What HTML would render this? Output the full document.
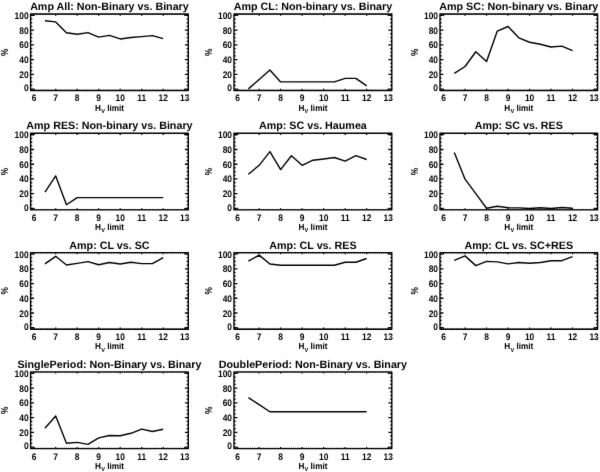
<!DOCTYPE html>
<html><head><meta charset="utf-8"><title>IDL plots</title><style>
html,body{margin:0;padding:0;background:#fff;}
body{width:600px;height:472px;overflow:hidden;}
svg{display:block;}
text{font-family:"Liberation Sans",Arial,sans-serif;font-weight:bold;fill:#000;text-rendering:geometricPrecision;}
.t{font-size:10.72px;}
.l{font-size:9.5px;}
.p{font-size:9.2px;}
.h{font-size:8.8px;}
.s{font-size:6.0px;}
</style></head>
<body><svg width="600" height="472" viewBox="0 0 600 472"><filter id="bl" filterUnits="userSpaceOnUse" x="0" y="0" width="600" height="472" color-interpolation-filters="sRGB"><feConvolveMatrix order="3" kernelMatrix="0.0052 0.0619 0.0052 0.0619 0.7314 0.0619 0.0052 0.0619 0.0052" edgeMode="duplicate"/></filter><g filter="url(#bl)"><rect width="600" height="472" fill="#fff"/><g><path d="M34.2 90.5v-1.64M34.2 14v1.64M55.7 90.5v-1.64M55.7 14v1.64M77.2 90.5v-1.64M77.2 14v1.64M98.7 90.5v-1.64M98.7 14v1.64M120.2 90.5v-1.64M120.2 14v1.64M141.7 90.5v-1.64M141.7 14v1.64M163.2 90.5v-1.64M163.2 14v1.64M184.7 90.5v-1.64M184.7 14v1.64M30.6 89.03h3.39M188.3 89.03h-3.39M30.6 74.32h3.39M188.3 74.32h-3.39M30.6 59.61h3.39M188.3 59.61h-3.39M30.6 44.89h3.39M188.3 44.89h-3.39M30.6 30.18h3.39M188.3 30.18h-3.39M30.6 15.47h3.39M188.3 15.47h-3.39" stroke="#000" stroke-width="1.3" fill="none"/><path d="M32.05 90.5v-0.82M32.05 14v0.82M36.35 90.5v-0.82M36.35 14v0.82M38.5 90.5v-0.82M38.5 14v0.82M40.65 90.5v-0.82M40.65 14v0.82M42.8 90.5v-0.82M42.8 14v0.82M44.95 90.5v-0.82M44.95 14v0.82M47.1 90.5v-0.82M47.1 14v0.82M49.25 90.5v-0.82M49.25 14v0.82M51.4 90.5v-0.82M51.4 14v0.82M53.55 90.5v-0.82M53.55 14v0.82M57.85 90.5v-0.82M57.85 14v0.82M60 90.5v-0.82M60 14v0.82M62.15 90.5v-0.82M62.15 14v0.82M64.3 90.5v-0.82M64.3 14v0.82M66.45 90.5v-0.82M66.45 14v0.82M68.6 90.5v-0.82M68.6 14v0.82M70.75 90.5v-0.82M70.75 14v0.82M72.9 90.5v-0.82M72.9 14v0.82M75.05 90.5v-0.82M75.05 14v0.82M79.35 90.5v-0.82M79.35 14v0.82M81.5 90.5v-0.82M81.5 14v0.82M83.65 90.5v-0.82M83.65 14v0.82M85.8 90.5v-0.82M85.8 14v0.82M87.95 90.5v-0.82M87.95 14v0.82M90.1 90.5v-0.82M90.1 14v0.82M92.25 90.5v-0.82M92.25 14v0.82M94.4 90.5v-0.82M94.4 14v0.82M96.55 90.5v-0.82M96.55 14v0.82M100.85 90.5v-0.82M100.85 14v0.82M103 90.5v-0.82M103 14v0.82M105.15 90.5v-0.82M105.15 14v0.82M107.3 90.5v-0.82M107.3 14v0.82M109.45 90.5v-0.82M109.45 14v0.82M111.6 90.5v-0.82M111.6 14v0.82M113.75 90.5v-0.82M113.75 14v0.82M115.9 90.5v-0.82M115.9 14v0.82M118.05 90.5v-0.82M118.05 14v0.82M122.35 90.5v-0.82M122.35 14v0.82M124.5 90.5v-0.82M124.5 14v0.82M126.65 90.5v-0.82M126.65 14v0.82M128.8 90.5v-0.82M128.8 14v0.82M130.95 90.5v-0.82M130.95 14v0.82M133.1 90.5v-0.82M133.1 14v0.82M135.25 90.5v-0.82M135.25 14v0.82M137.4 90.5v-0.82M137.4 14v0.82M139.55 90.5v-0.82M139.55 14v0.82M143.85 90.5v-0.82M143.85 14v0.82M146 90.5v-0.82M146 14v0.82M148.15 90.5v-0.82M148.15 14v0.82M150.3 90.5v-0.82M150.3 14v0.82M152.45 90.5v-0.82M152.45 14v0.82M154.6 90.5v-0.82M154.6 14v0.82M156.75 90.5v-0.82M156.75 14v0.82M158.9 90.5v-0.82M158.9 14v0.82M161.05 90.5v-0.82M161.05 14v0.82M165.35 90.5v-0.82M165.35 14v0.82M167.5 90.5v-0.82M167.5 14v0.82M169.65 90.5v-0.82M169.65 14v0.82M171.8 90.5v-0.82M171.8 14v0.82M173.95 90.5v-0.82M173.95 14v0.82M176.1 90.5v-0.82M176.1 14v0.82M178.25 90.5v-0.82M178.25 14v0.82M180.4 90.5v-0.82M180.4 14v0.82M182.55 90.5v-0.82M182.55 14v0.82M186.85 90.5v-0.82M186.85 14v0.82M30.6 85.35h1.7M188.3 85.35h-1.7M30.6 81.67h1.7M188.3 81.67h-1.7M30.6 78h1.7M188.3 78h-1.7M30.6 70.64h1.7M188.3 70.64h-1.7M30.6 66.96h1.7M188.3 66.96h-1.7M30.6 63.28h1.7M188.3 63.28h-1.7M30.6 55.93h1.7M188.3 55.93h-1.7M30.6 52.25h1.7M188.3 52.25h-1.7M30.6 48.57h1.7M188.3 48.57h-1.7M30.6 41.22h1.7M188.3 41.22h-1.7M30.6 37.54h1.7M188.3 37.54h-1.7M30.6 33.86h1.7M188.3 33.86h-1.7M30.6 26.5h1.7M188.3 26.5h-1.7M30.6 22.83h1.7M188.3 22.83h-1.7M30.6 19.15h1.7M188.3 19.15h-1.7" stroke="#000" stroke-width="1.15" fill="none"/><rect x="30.6" y="14" width="157.7" height="76.5" stroke="#000" stroke-width="1.4" stroke-linejoin="round" fill="none"/><polyline points="44.95,20.68 55.7,21.9 66.45,32.73 77.2,34.3 87.95,32.58 98.7,37.17 109.45,35.38 120.2,38.96 130.95,37.53 141.7,36.67 152.45,35.59 163.2,38.68" stroke="#000" stroke-width="1.4" fill="none" stroke-linejoin="round"/><text class="t" text-anchor="middle" x="109.45" y="10.1">Amp All: Non-Binary vs. Binary</text><text class="l" text-anchor="middle" transform="translate(34.2 101.4) scale(0.885 1)">6</text><text class="l" text-anchor="middle" transform="translate(55.7 101.4) scale(0.885 1)">7</text><text class="l" text-anchor="middle" transform="translate(77.2 101.4) scale(0.885 1)">8</text><text class="l" text-anchor="middle" transform="translate(98.7 101.4) scale(0.885 1)">9</text><text class="l" text-anchor="middle" transform="translate(120.2 101.4) scale(0.885 1)">10</text><text class="l" text-anchor="middle" transform="translate(141.7 101.4) scale(0.885 1)">11</text><text class="l" text-anchor="middle" transform="translate(163.2 101.4) scale(0.885 1)">12</text><text class="l" text-anchor="middle" transform="translate(184.7 101.4) scale(0.885 1)">13</text><text class="l" text-anchor="end" transform="translate(28.6 91.13) scale(0.885 1)">0</text><text class="l" text-anchor="end" transform="translate(28.6 77.82) scale(0.885 1)">20</text><text class="l" text-anchor="end" transform="translate(28.6 63.11) scale(0.885 1)">40</text><text class="l" text-anchor="end" transform="translate(28.6 48.39) scale(0.885 1)">60</text><text class="l" text-anchor="end" transform="translate(28.6 33.68) scale(0.885 1)">80</text><text class="l" text-anchor="end" transform="translate(28.6 18.97) scale(0.885 1)">100</text><text class="p" text-anchor="middle" transform="translate(8.2 52.25) rotate(-90) scale(0.9 1.1)">%</text><text class="h" text-anchor="middle" transform="translate(109.45 110.7) scale(0.93 1)">H<tspan class="s" dx="0.3" dy="2.1">V</tspan><tspan dy="-2.1"> limit</tspan></text></g><g><path d="M237.65 90.5v-1.64M237.65 14v1.64M259.15 90.5v-1.64M259.15 14v1.64M280.65 90.5v-1.64M280.65 14v1.64M302.15 90.5v-1.64M302.15 14v1.64M323.65 90.5v-1.64M323.65 14v1.64M345.15 90.5v-1.64M345.15 14v1.64M366.65 90.5v-1.64M366.65 14v1.64M388.15 90.5v-1.64M388.15 14v1.64M234 89.03h3.39M391.8 89.03h-3.39M234 74.32h3.39M391.8 74.32h-3.39M234 59.61h3.39M391.8 59.61h-3.39M234 44.89h3.39M391.8 44.89h-3.39M234 30.18h3.39M391.8 30.18h-3.39M234 15.47h3.39M391.8 15.47h-3.39" stroke="#000" stroke-width="1.3" fill="none"/><path d="M235.5 90.5v-0.82M235.5 14v0.82M239.8 90.5v-0.82M239.8 14v0.82M241.95 90.5v-0.82M241.95 14v0.82M244.1 90.5v-0.82M244.1 14v0.82M246.25 90.5v-0.82M246.25 14v0.82M248.4 90.5v-0.82M248.4 14v0.82M250.55 90.5v-0.82M250.55 14v0.82M252.7 90.5v-0.82M252.7 14v0.82M254.85 90.5v-0.82M254.85 14v0.82M257 90.5v-0.82M257 14v0.82M261.3 90.5v-0.82M261.3 14v0.82M263.45 90.5v-0.82M263.45 14v0.82M265.6 90.5v-0.82M265.6 14v0.82M267.75 90.5v-0.82M267.75 14v0.82M269.9 90.5v-0.82M269.9 14v0.82M272.05 90.5v-0.82M272.05 14v0.82M274.2 90.5v-0.82M274.2 14v0.82M276.35 90.5v-0.82M276.35 14v0.82M278.5 90.5v-0.82M278.5 14v0.82M282.8 90.5v-0.82M282.8 14v0.82M284.95 90.5v-0.82M284.95 14v0.82M287.1 90.5v-0.82M287.1 14v0.82M289.25 90.5v-0.82M289.25 14v0.82M291.4 90.5v-0.82M291.4 14v0.82M293.55 90.5v-0.82M293.55 14v0.82M295.7 90.5v-0.82M295.7 14v0.82M297.85 90.5v-0.82M297.85 14v0.82M300 90.5v-0.82M300 14v0.82M304.3 90.5v-0.82M304.3 14v0.82M306.45 90.5v-0.82M306.45 14v0.82M308.6 90.5v-0.82M308.6 14v0.82M310.75 90.5v-0.82M310.75 14v0.82M312.9 90.5v-0.82M312.9 14v0.82M315.05 90.5v-0.82M315.05 14v0.82M317.2 90.5v-0.82M317.2 14v0.82M319.35 90.5v-0.82M319.35 14v0.82M321.5 90.5v-0.82M321.5 14v0.82M325.8 90.5v-0.82M325.8 14v0.82M327.95 90.5v-0.82M327.95 14v0.82M330.1 90.5v-0.82M330.1 14v0.82M332.25 90.5v-0.82M332.25 14v0.82M334.4 90.5v-0.82M334.4 14v0.82M336.55 90.5v-0.82M336.55 14v0.82M338.7 90.5v-0.82M338.7 14v0.82M340.85 90.5v-0.82M340.85 14v0.82M343 90.5v-0.82M343 14v0.82M347.3 90.5v-0.82M347.3 14v0.82M349.45 90.5v-0.82M349.45 14v0.82M351.6 90.5v-0.82M351.6 14v0.82M353.75 90.5v-0.82M353.75 14v0.82M355.9 90.5v-0.82M355.9 14v0.82M358.05 90.5v-0.82M358.05 14v0.82M360.2 90.5v-0.82M360.2 14v0.82M362.35 90.5v-0.82M362.35 14v0.82M364.5 90.5v-0.82M364.5 14v0.82M368.8 90.5v-0.82M368.8 14v0.82M370.95 90.5v-0.82M370.95 14v0.82M373.1 90.5v-0.82M373.1 14v0.82M375.25 90.5v-0.82M375.25 14v0.82M377.4 90.5v-0.82M377.4 14v0.82M379.55 90.5v-0.82M379.55 14v0.82M381.7 90.5v-0.82M381.7 14v0.82M383.85 90.5v-0.82M383.85 14v0.82M386 90.5v-0.82M386 14v0.82M390.3 90.5v-0.82M390.3 14v0.82M234 85.35h1.7M391.8 85.35h-1.7M234 81.67h1.7M391.8 81.67h-1.7M234 78h1.7M391.8 78h-1.7M234 70.64h1.7M391.8 70.64h-1.7M234 66.96h1.7M391.8 66.96h-1.7M234 63.28h1.7M391.8 63.28h-1.7M234 55.93h1.7M391.8 55.93h-1.7M234 52.25h1.7M391.8 52.25h-1.7M234 48.57h1.7M391.8 48.57h-1.7M234 41.22h1.7M391.8 41.22h-1.7M234 37.54h1.7M391.8 37.54h-1.7M234 33.86h1.7M391.8 33.86h-1.7M234 26.5h1.7M391.8 26.5h-1.7M234 22.83h1.7M391.8 22.83h-1.7M234 19.15h1.7M391.8 19.15h-1.7" stroke="#000" stroke-width="1.15" fill="none"/><rect x="234" y="14" width="157.8" height="76.5" stroke="#000" stroke-width="1.4" stroke-linejoin="round" fill="none"/><polyline points="248.4,88.87 259.15,79.55 269.9,70.01 280.65,81.91 291.4,81.91 302.15,81.91 312.9,81.91 323.65,81.91 334.4,81.91 345.15,78.33 355.9,78.33 366.65,85.93" stroke="#000" stroke-width="1.4" fill="none" stroke-linejoin="round"/><text class="t" text-anchor="middle" x="312.9" y="10.1">Amp CL: Non-binary vs. Binary</text><text class="l" text-anchor="middle" transform="translate(237.65 101.4) scale(0.885 1)">6</text><text class="l" text-anchor="middle" transform="translate(259.15 101.4) scale(0.885 1)">7</text><text class="l" text-anchor="middle" transform="translate(280.65 101.4) scale(0.885 1)">8</text><text class="l" text-anchor="middle" transform="translate(302.15 101.4) scale(0.885 1)">9</text><text class="l" text-anchor="middle" transform="translate(323.65 101.4) scale(0.885 1)">10</text><text class="l" text-anchor="middle" transform="translate(345.15 101.4) scale(0.885 1)">11</text><text class="l" text-anchor="middle" transform="translate(366.65 101.4) scale(0.885 1)">12</text><text class="l" text-anchor="middle" transform="translate(388.15 101.4) scale(0.885 1)">13</text><text class="l" text-anchor="end" transform="translate(232 91.13) scale(0.885 1)">0</text><text class="l" text-anchor="end" transform="translate(232 77.82) scale(0.885 1)">20</text><text class="l" text-anchor="end" transform="translate(232 63.11) scale(0.885 1)">40</text><text class="l" text-anchor="end" transform="translate(232 48.39) scale(0.885 1)">60</text><text class="l" text-anchor="end" transform="translate(232 33.68) scale(0.885 1)">80</text><text class="l" text-anchor="end" transform="translate(232 18.97) scale(0.885 1)">100</text><text class="p" text-anchor="middle" transform="translate(211.6 52.25) rotate(-90) scale(0.9 1.1)">%</text><text class="h" text-anchor="middle" transform="translate(312.9 110.7) scale(0.93 1)">H<tspan class="s" dx="0.3" dy="2.1">V</tspan><tspan dy="-2.1"> limit</tspan></text></g><g><path d="M443.55 90.5v-1.64M443.55 14v1.64M465.05 90.5v-1.64M465.05 14v1.64M486.55 90.5v-1.64M486.55 14v1.64M508.05 90.5v-1.64M508.05 14v1.64M529.55 90.5v-1.64M529.55 14v1.64M551.05 90.5v-1.64M551.05 14v1.64M572.55 90.5v-1.64M572.55 14v1.64M594.05 90.5v-1.64M594.05 14v1.64M440 89.03h3.39M597.6 89.03h-3.39M440 74.32h3.39M597.6 74.32h-3.39M440 59.61h3.39M597.6 59.61h-3.39M440 44.89h3.39M597.6 44.89h-3.39M440 30.18h3.39M597.6 30.18h-3.39M440 15.47h3.39M597.6 15.47h-3.39" stroke="#000" stroke-width="1.3" fill="none"/><path d="M441.4 90.5v-0.82M441.4 14v0.82M445.7 90.5v-0.82M445.7 14v0.82M447.85 90.5v-0.82M447.85 14v0.82M450 90.5v-0.82M450 14v0.82M452.15 90.5v-0.82M452.15 14v0.82M454.3 90.5v-0.82M454.3 14v0.82M456.45 90.5v-0.82M456.45 14v0.82M458.6 90.5v-0.82M458.6 14v0.82M460.75 90.5v-0.82M460.75 14v0.82M462.9 90.5v-0.82M462.9 14v0.82M467.2 90.5v-0.82M467.2 14v0.82M469.35 90.5v-0.82M469.35 14v0.82M471.5 90.5v-0.82M471.5 14v0.82M473.65 90.5v-0.82M473.65 14v0.82M475.8 90.5v-0.82M475.8 14v0.82M477.95 90.5v-0.82M477.95 14v0.82M480.1 90.5v-0.82M480.1 14v0.82M482.25 90.5v-0.82M482.25 14v0.82M484.4 90.5v-0.82M484.4 14v0.82M488.7 90.5v-0.82M488.7 14v0.82M490.85 90.5v-0.82M490.85 14v0.82M493 90.5v-0.82M493 14v0.82M495.15 90.5v-0.82M495.15 14v0.82M497.3 90.5v-0.82M497.3 14v0.82M499.45 90.5v-0.82M499.45 14v0.82M501.6 90.5v-0.82M501.6 14v0.82M503.75 90.5v-0.82M503.75 14v0.82M505.9 90.5v-0.82M505.9 14v0.82M510.2 90.5v-0.82M510.2 14v0.82M512.35 90.5v-0.82M512.35 14v0.82M514.5 90.5v-0.82M514.5 14v0.82M516.65 90.5v-0.82M516.65 14v0.82M518.8 90.5v-0.82M518.8 14v0.82M520.95 90.5v-0.82M520.95 14v0.82M523.1 90.5v-0.82M523.1 14v0.82M525.25 90.5v-0.82M525.25 14v0.82M527.4 90.5v-0.82M527.4 14v0.82M531.7 90.5v-0.82M531.7 14v0.82M533.85 90.5v-0.82M533.85 14v0.82M536 90.5v-0.82M536 14v0.82M538.15 90.5v-0.82M538.15 14v0.82M540.3 90.5v-0.82M540.3 14v0.82M542.45 90.5v-0.82M542.45 14v0.82M544.6 90.5v-0.82M544.6 14v0.82M546.75 90.5v-0.82M546.75 14v0.82M548.9 90.5v-0.82M548.9 14v0.82M553.2 90.5v-0.82M553.2 14v0.82M555.35 90.5v-0.82M555.35 14v0.82M557.5 90.5v-0.82M557.5 14v0.82M559.65 90.5v-0.82M559.65 14v0.82M561.8 90.5v-0.82M561.8 14v0.82M563.95 90.5v-0.82M563.95 14v0.82M566.1 90.5v-0.82M566.1 14v0.82M568.25 90.5v-0.82M568.25 14v0.82M570.4 90.5v-0.82M570.4 14v0.82M574.7 90.5v-0.82M574.7 14v0.82M576.85 90.5v-0.82M576.85 14v0.82M579 90.5v-0.82M579 14v0.82M581.15 90.5v-0.82M581.15 14v0.82M583.3 90.5v-0.82M583.3 14v0.82M585.45 90.5v-0.82M585.45 14v0.82M587.6 90.5v-0.82M587.6 14v0.82M589.75 90.5v-0.82M589.75 14v0.82M591.9 90.5v-0.82M591.9 14v0.82M596.2 90.5v-0.82M596.2 14v0.82M440 85.35h1.69M597.6 85.35h-1.69M440 81.67h1.69M597.6 81.67h-1.69M440 78h1.69M597.6 78h-1.69M440 70.64h1.69M597.6 70.64h-1.69M440 66.96h1.69M597.6 66.96h-1.69M440 63.28h1.69M597.6 63.28h-1.69M440 55.93h1.69M597.6 55.93h-1.69M440 52.25h1.69M597.6 52.25h-1.69M440 48.57h1.69M597.6 48.57h-1.69M440 41.22h1.69M597.6 41.22h-1.69M440 37.54h1.69M597.6 37.54h-1.69M440 33.86h1.69M597.6 33.86h-1.69M440 26.5h1.69M597.6 26.5h-1.69M440 22.83h1.69M597.6 22.83h-1.69M440 19.15h1.69M597.6 19.15h-1.69" stroke="#000" stroke-width="1.15" fill="none"/><rect x="440" y="14" width="157.6" height="76.5" stroke="#000" stroke-width="1.4" stroke-linejoin="round" fill="none"/><polyline points="454.3,73.38 465.05,66.5 475.8,51.73 486.55,61.48 497.3,31.08 508.05,26.49 518.8,37.82 529.55,42.26 540.3,44.27 551.05,46.99 561.8,46.13 572.55,50.72" stroke="#000" stroke-width="1.4" fill="none" stroke-linejoin="round"/><text class="t" text-anchor="middle" x="518.8" y="10.1">Amp SC: Non-binary vs. Binary</text><text class="l" text-anchor="middle" transform="translate(443.55 101.4) scale(0.885 1)">6</text><text class="l" text-anchor="middle" transform="translate(465.05 101.4) scale(0.885 1)">7</text><text class="l" text-anchor="middle" transform="translate(486.55 101.4) scale(0.885 1)">8</text><text class="l" text-anchor="middle" transform="translate(508.05 101.4) scale(0.885 1)">9</text><text class="l" text-anchor="middle" transform="translate(529.55 101.4) scale(0.885 1)">10</text><text class="l" text-anchor="middle" transform="translate(551.05 101.4) scale(0.885 1)">11</text><text class="l" text-anchor="middle" transform="translate(572.55 101.4) scale(0.885 1)">12</text><text class="l" text-anchor="middle" transform="translate(594.05 101.4) scale(0.885 1)">13</text><text class="l" text-anchor="end" transform="translate(438 91.13) scale(0.885 1)">0</text><text class="l" text-anchor="end" transform="translate(438 77.82) scale(0.885 1)">20</text><text class="l" text-anchor="end" transform="translate(438 63.11) scale(0.885 1)">40</text><text class="l" text-anchor="end" transform="translate(438 48.39) scale(0.885 1)">60</text><text class="l" text-anchor="end" transform="translate(438 33.68) scale(0.885 1)">80</text><text class="l" text-anchor="end" transform="translate(438 18.97) scale(0.885 1)">100</text><text class="p" text-anchor="middle" transform="translate(417.6 52.25) rotate(-90) scale(0.9 1.1)">%</text><text class="h" text-anchor="middle" transform="translate(518.8 110.7) scale(0.93 1)">H<tspan class="s" dx="0.3" dy="2.1">V</tspan><tspan dy="-2.1"> limit</tspan></text></g><g><path d="M34.2 209.9v-1.65M34.2 133.3v1.65M55.7 209.9v-1.65M55.7 133.3v1.65M77.2 209.9v-1.65M77.2 133.3v1.65M98.7 209.9v-1.65M98.7 133.3v1.65M120.2 209.9v-1.65M120.2 133.3v1.65M141.7 209.9v-1.65M141.7 133.3v1.65M163.2 209.9v-1.65M163.2 133.3v1.65M184.7 209.9v-1.65M184.7 133.3v1.65M30.6 208.43h3.39M188.3 208.43h-3.39M30.6 193.7h3.39M188.3 193.7h-3.39M30.6 178.97h3.39M188.3 178.97h-3.39M30.6 164.23h3.39M188.3 164.23h-3.39M30.6 149.5h3.39M188.3 149.5h-3.39M30.6 134.77h3.39M188.3 134.77h-3.39" stroke="#000" stroke-width="1.3" fill="none"/><path d="M32.05 209.9v-0.82M32.05 133.3v0.82M36.35 209.9v-0.82M36.35 133.3v0.82M38.5 209.9v-0.82M38.5 133.3v0.82M40.65 209.9v-0.82M40.65 133.3v0.82M42.8 209.9v-0.82M42.8 133.3v0.82M44.95 209.9v-0.82M44.95 133.3v0.82M47.1 209.9v-0.82M47.1 133.3v0.82M49.25 209.9v-0.82M49.25 133.3v0.82M51.4 209.9v-0.82M51.4 133.3v0.82M53.55 209.9v-0.82M53.55 133.3v0.82M57.85 209.9v-0.82M57.85 133.3v0.82M60 209.9v-0.82M60 133.3v0.82M62.15 209.9v-0.82M62.15 133.3v0.82M64.3 209.9v-0.82M64.3 133.3v0.82M66.45 209.9v-0.82M66.45 133.3v0.82M68.6 209.9v-0.82M68.6 133.3v0.82M70.75 209.9v-0.82M70.75 133.3v0.82M72.9 209.9v-0.82M72.9 133.3v0.82M75.05 209.9v-0.82M75.05 133.3v0.82M79.35 209.9v-0.82M79.35 133.3v0.82M81.5 209.9v-0.82M81.5 133.3v0.82M83.65 209.9v-0.82M83.65 133.3v0.82M85.8 209.9v-0.82M85.8 133.3v0.82M87.95 209.9v-0.82M87.95 133.3v0.82M90.1 209.9v-0.82M90.1 133.3v0.82M92.25 209.9v-0.82M92.25 133.3v0.82M94.4 209.9v-0.82M94.4 133.3v0.82M96.55 209.9v-0.82M96.55 133.3v0.82M100.85 209.9v-0.82M100.85 133.3v0.82M103 209.9v-0.82M103 133.3v0.82M105.15 209.9v-0.82M105.15 133.3v0.82M107.3 209.9v-0.82M107.3 133.3v0.82M109.45 209.9v-0.82M109.45 133.3v0.82M111.6 209.9v-0.82M111.6 133.3v0.82M113.75 209.9v-0.82M113.75 133.3v0.82M115.9 209.9v-0.82M115.9 133.3v0.82M118.05 209.9v-0.82M118.05 133.3v0.82M122.35 209.9v-0.82M122.35 133.3v0.82M124.5 209.9v-0.82M124.5 133.3v0.82M126.65 209.9v-0.82M126.65 133.3v0.82M128.8 209.9v-0.82M128.8 133.3v0.82M130.95 209.9v-0.82M130.95 133.3v0.82M133.1 209.9v-0.82M133.1 133.3v0.82M135.25 209.9v-0.82M135.25 133.3v0.82M137.4 209.9v-0.82M137.4 133.3v0.82M139.55 209.9v-0.82M139.55 133.3v0.82M143.85 209.9v-0.82M143.85 133.3v0.82M146 209.9v-0.82M146 133.3v0.82M148.15 209.9v-0.82M148.15 133.3v0.82M150.3 209.9v-0.82M150.3 133.3v0.82M152.45 209.9v-0.82M152.45 133.3v0.82M154.6 209.9v-0.82M154.6 133.3v0.82M156.75 209.9v-0.82M156.75 133.3v0.82M158.9 209.9v-0.82M158.9 133.3v0.82M161.05 209.9v-0.82M161.05 133.3v0.82M165.35 209.9v-0.82M165.35 133.3v0.82M167.5 209.9v-0.82M167.5 133.3v0.82M169.65 209.9v-0.82M169.65 133.3v0.82M171.8 209.9v-0.82M171.8 133.3v0.82M173.95 209.9v-0.82M173.95 133.3v0.82M176.1 209.9v-0.82M176.1 133.3v0.82M178.25 209.9v-0.82M178.25 133.3v0.82M180.4 209.9v-0.82M180.4 133.3v0.82M182.55 209.9v-0.82M182.55 133.3v0.82M186.85 209.9v-0.82M186.85 133.3v0.82M30.6 204.74h1.7M188.3 204.74h-1.7M30.6 201.06h1.7M188.3 201.06h-1.7M30.6 197.38h1.7M188.3 197.38h-1.7M30.6 190.01h1.7M188.3 190.01h-1.7M30.6 186.33h1.7M188.3 186.33h-1.7M30.6 182.65h1.7M188.3 182.65h-1.7M30.6 175.28h1.7M188.3 175.28h-1.7M30.6 171.6h1.7M188.3 171.6h-1.7M30.6 167.92h1.7M188.3 167.92h-1.7M30.6 160.55h1.7M188.3 160.55h-1.7M30.6 156.87h1.7M188.3 156.87h-1.7M30.6 153.19h1.7M188.3 153.19h-1.7M30.6 145.82h1.7M188.3 145.82h-1.7M30.6 142.14h1.7M188.3 142.14h-1.7M30.6 138.46h1.7M188.3 138.46h-1.7" stroke="#000" stroke-width="1.15" fill="none"/><rect x="30.6" y="133.3" width="157.7" height="76.6" stroke="#000" stroke-width="1.4" stroke-linejoin="round" fill="none"/><polyline points="44.95,192.03 55.7,175.89 66.45,204.72 77.2,197.62 87.95,197.62 98.7,197.62 109.45,197.62 120.2,197.62 130.95,197.62 141.7,197.62 152.45,197.62 163.2,197.62" stroke="#000" stroke-width="1.4" fill="none" stroke-linejoin="round"/><text class="t" text-anchor="middle" x="109.45" y="129.4">Amp RES: Non-binary vs. Binary</text><text class="l" text-anchor="middle" transform="translate(34.2 220.8) scale(0.885 1)">6</text><text class="l" text-anchor="middle" transform="translate(55.7 220.8) scale(0.885 1)">7</text><text class="l" text-anchor="middle" transform="translate(77.2 220.8) scale(0.885 1)">8</text><text class="l" text-anchor="middle" transform="translate(98.7 220.8) scale(0.885 1)">9</text><text class="l" text-anchor="middle" transform="translate(120.2 220.8) scale(0.885 1)">10</text><text class="l" text-anchor="middle" transform="translate(141.7 220.8) scale(0.885 1)">11</text><text class="l" text-anchor="middle" transform="translate(163.2 220.8) scale(0.885 1)">12</text><text class="l" text-anchor="middle" transform="translate(184.7 220.8) scale(0.885 1)">13</text><text class="l" text-anchor="end" transform="translate(28.6 210.53) scale(0.885 1)">0</text><text class="l" text-anchor="end" transform="translate(28.6 197.2) scale(0.885 1)">20</text><text class="l" text-anchor="end" transform="translate(28.6 182.47) scale(0.885 1)">40</text><text class="l" text-anchor="end" transform="translate(28.6 167.73) scale(0.885 1)">60</text><text class="l" text-anchor="end" transform="translate(28.6 153) scale(0.885 1)">80</text><text class="l" text-anchor="end" transform="translate(28.6 138.27) scale(0.885 1)">100</text><text class="p" text-anchor="middle" transform="translate(8.2 171.6) rotate(-90) scale(0.9 1.1)">%</text><text class="h" text-anchor="middle" transform="translate(109.45 230.1) scale(0.93 1)">H<tspan class="s" dx="0.3" dy="2.1">V</tspan><tspan dy="-2.1"> limit</tspan></text></g><g><path d="M237.65 209.9v-1.65M237.65 133.3v1.65M259.15 209.9v-1.65M259.15 133.3v1.65M280.65 209.9v-1.65M280.65 133.3v1.65M302.15 209.9v-1.65M302.15 133.3v1.65M323.65 209.9v-1.65M323.65 133.3v1.65M345.15 209.9v-1.65M345.15 133.3v1.65M366.65 209.9v-1.65M366.65 133.3v1.65M388.15 209.9v-1.65M388.15 133.3v1.65M234 208.43h3.39M391.8 208.43h-3.39M234 193.7h3.39M391.8 193.7h-3.39M234 178.97h3.39M391.8 178.97h-3.39M234 164.23h3.39M391.8 164.23h-3.39M234 149.5h3.39M391.8 149.5h-3.39M234 134.77h3.39M391.8 134.77h-3.39" stroke="#000" stroke-width="1.3" fill="none"/><path d="M235.5 209.9v-0.82M235.5 133.3v0.82M239.8 209.9v-0.82M239.8 133.3v0.82M241.95 209.9v-0.82M241.95 133.3v0.82M244.1 209.9v-0.82M244.1 133.3v0.82M246.25 209.9v-0.82M246.25 133.3v0.82M248.4 209.9v-0.82M248.4 133.3v0.82M250.55 209.9v-0.82M250.55 133.3v0.82M252.7 209.9v-0.82M252.7 133.3v0.82M254.85 209.9v-0.82M254.85 133.3v0.82M257 209.9v-0.82M257 133.3v0.82M261.3 209.9v-0.82M261.3 133.3v0.82M263.45 209.9v-0.82M263.45 133.3v0.82M265.6 209.9v-0.82M265.6 133.3v0.82M267.75 209.9v-0.82M267.75 133.3v0.82M269.9 209.9v-0.82M269.9 133.3v0.82M272.05 209.9v-0.82M272.05 133.3v0.82M274.2 209.9v-0.82M274.2 133.3v0.82M276.35 209.9v-0.82M276.35 133.3v0.82M278.5 209.9v-0.82M278.5 133.3v0.82M282.8 209.9v-0.82M282.8 133.3v0.82M284.95 209.9v-0.82M284.95 133.3v0.82M287.1 209.9v-0.82M287.1 133.3v0.82M289.25 209.9v-0.82M289.25 133.3v0.82M291.4 209.9v-0.82M291.4 133.3v0.82M293.55 209.9v-0.82M293.55 133.3v0.82M295.7 209.9v-0.82M295.7 133.3v0.82M297.85 209.9v-0.82M297.85 133.3v0.82M300 209.9v-0.82M300 133.3v0.82M304.3 209.9v-0.82M304.3 133.3v0.82M306.45 209.9v-0.82M306.45 133.3v0.82M308.6 209.9v-0.82M308.6 133.3v0.82M310.75 209.9v-0.82M310.75 133.3v0.82M312.9 209.9v-0.82M312.9 133.3v0.82M315.05 209.9v-0.82M315.05 133.3v0.82M317.2 209.9v-0.82M317.2 133.3v0.82M319.35 209.9v-0.82M319.35 133.3v0.82M321.5 209.9v-0.82M321.5 133.3v0.82M325.8 209.9v-0.82M325.8 133.3v0.82M327.95 209.9v-0.82M327.95 133.3v0.82M330.1 209.9v-0.82M330.1 133.3v0.82M332.25 209.9v-0.82M332.25 133.3v0.82M334.4 209.9v-0.82M334.4 133.3v0.82M336.55 209.9v-0.82M336.55 133.3v0.82M338.7 209.9v-0.82M338.7 133.3v0.82M340.85 209.9v-0.82M340.85 133.3v0.82M343 209.9v-0.82M343 133.3v0.82M347.3 209.9v-0.82M347.3 133.3v0.82M349.45 209.9v-0.82M349.45 133.3v0.82M351.6 209.9v-0.82M351.6 133.3v0.82M353.75 209.9v-0.82M353.75 133.3v0.82M355.9 209.9v-0.82M355.9 133.3v0.82M358.05 209.9v-0.82M358.05 133.3v0.82M360.2 209.9v-0.82M360.2 133.3v0.82M362.35 209.9v-0.82M362.35 133.3v0.82M364.5 209.9v-0.82M364.5 133.3v0.82M368.8 209.9v-0.82M368.8 133.3v0.82M370.95 209.9v-0.82M370.95 133.3v0.82M373.1 209.9v-0.82M373.1 133.3v0.82M375.25 209.9v-0.82M375.25 133.3v0.82M377.4 209.9v-0.82M377.4 133.3v0.82M379.55 209.9v-0.82M379.55 133.3v0.82M381.7 209.9v-0.82M381.7 133.3v0.82M383.85 209.9v-0.82M383.85 133.3v0.82M386 209.9v-0.82M386 133.3v0.82M390.3 209.9v-0.82M390.3 133.3v0.82M234 204.74h1.7M391.8 204.74h-1.7M234 201.06h1.7M391.8 201.06h-1.7M234 197.38h1.7M391.8 197.38h-1.7M234 190.01h1.7M391.8 190.01h-1.7M234 186.33h1.7M391.8 186.33h-1.7M234 182.65h1.7M391.8 182.65h-1.7M234 175.28h1.7M391.8 175.28h-1.7M234 171.6h1.7M391.8 171.6h-1.7M234 167.92h1.7M391.8 167.92h-1.7M234 160.55h1.7M391.8 160.55h-1.7M234 156.87h1.7M391.8 156.87h-1.7M234 153.19h1.7M391.8 153.19h-1.7M234 145.82h1.7M391.8 145.82h-1.7M234 142.14h1.7M391.8 142.14h-1.7M234 138.46h1.7M391.8 138.46h-1.7" stroke="#000" stroke-width="1.15" fill="none"/><rect x="234" y="133.3" width="157.8" height="76.6" stroke="#000" stroke-width="1.4" stroke-linejoin="round" fill="none"/><polyline points="248.4,174.27 259.15,165.31 269.9,151.69 280.65,169.61 291.4,155.7 302.15,165.31 312.9,160.22 323.65,158.93 334.4,157.49 345.15,161.08 355.9,155.7 366.65,159.5" stroke="#000" stroke-width="1.4" fill="none" stroke-linejoin="round"/><text class="t" text-anchor="middle" x="312.9" y="129.4">Amp: SC vs. Haumea</text><text class="l" text-anchor="middle" transform="translate(237.65 220.8) scale(0.885 1)">6</text><text class="l" text-anchor="middle" transform="translate(259.15 220.8) scale(0.885 1)">7</text><text class="l" text-anchor="middle" transform="translate(280.65 220.8) scale(0.885 1)">8</text><text class="l" text-anchor="middle" transform="translate(302.15 220.8) scale(0.885 1)">9</text><text class="l" text-anchor="middle" transform="translate(323.65 220.8) scale(0.885 1)">10</text><text class="l" text-anchor="middle" transform="translate(345.15 220.8) scale(0.885 1)">11</text><text class="l" text-anchor="middle" transform="translate(366.65 220.8) scale(0.885 1)">12</text><text class="l" text-anchor="middle" transform="translate(388.15 220.8) scale(0.885 1)">13</text><text class="l" text-anchor="end" transform="translate(232 210.53) scale(0.885 1)">0</text><text class="l" text-anchor="end" transform="translate(232 197.2) scale(0.885 1)">20</text><text class="l" text-anchor="end" transform="translate(232 182.47) scale(0.885 1)">40</text><text class="l" text-anchor="end" transform="translate(232 167.73) scale(0.885 1)">60</text><text class="l" text-anchor="end" transform="translate(232 153) scale(0.885 1)">80</text><text class="l" text-anchor="end" transform="translate(232 138.27) scale(0.885 1)">100</text><text class="p" text-anchor="middle" transform="translate(211.6 171.6) rotate(-90) scale(0.9 1.1)">%</text><text class="h" text-anchor="middle" transform="translate(312.9 230.1) scale(0.93 1)">H<tspan class="s" dx="0.3" dy="2.1">V</tspan><tspan dy="-2.1"> limit</tspan></text></g><g><path d="M443.55 209.9v-1.65M443.55 133.3v1.65M465.05 209.9v-1.65M465.05 133.3v1.65M486.55 209.9v-1.65M486.55 133.3v1.65M508.05 209.9v-1.65M508.05 133.3v1.65M529.55 209.9v-1.65M529.55 133.3v1.65M551.05 209.9v-1.65M551.05 133.3v1.65M572.55 209.9v-1.65M572.55 133.3v1.65M594.05 209.9v-1.65M594.05 133.3v1.65M440 208.43h3.39M597.6 208.43h-3.39M440 193.7h3.39M597.6 193.7h-3.39M440 178.97h3.39M597.6 178.97h-3.39M440 164.23h3.39M597.6 164.23h-3.39M440 149.5h3.39M597.6 149.5h-3.39M440 134.77h3.39M597.6 134.77h-3.39" stroke="#000" stroke-width="1.3" fill="none"/><path d="M441.4 209.9v-0.82M441.4 133.3v0.82M445.7 209.9v-0.82M445.7 133.3v0.82M447.85 209.9v-0.82M447.85 133.3v0.82M450 209.9v-0.82M450 133.3v0.82M452.15 209.9v-0.82M452.15 133.3v0.82M454.3 209.9v-0.82M454.3 133.3v0.82M456.45 209.9v-0.82M456.45 133.3v0.82M458.6 209.9v-0.82M458.6 133.3v0.82M460.75 209.9v-0.82M460.75 133.3v0.82M462.9 209.9v-0.82M462.9 133.3v0.82M467.2 209.9v-0.82M467.2 133.3v0.82M469.35 209.9v-0.82M469.35 133.3v0.82M471.5 209.9v-0.82M471.5 133.3v0.82M473.65 209.9v-0.82M473.65 133.3v0.82M475.8 209.9v-0.82M475.8 133.3v0.82M477.95 209.9v-0.82M477.95 133.3v0.82M480.1 209.9v-0.82M480.1 133.3v0.82M482.25 209.9v-0.82M482.25 133.3v0.82M484.4 209.9v-0.82M484.4 133.3v0.82M488.7 209.9v-0.82M488.7 133.3v0.82M490.85 209.9v-0.82M490.85 133.3v0.82M493 209.9v-0.82M493 133.3v0.82M495.15 209.9v-0.82M495.15 133.3v0.82M497.3 209.9v-0.82M497.3 133.3v0.82M499.45 209.9v-0.82M499.45 133.3v0.82M501.6 209.9v-0.82M501.6 133.3v0.82M503.75 209.9v-0.82M503.75 133.3v0.82M505.9 209.9v-0.82M505.9 133.3v0.82M510.2 209.9v-0.82M510.2 133.3v0.82M512.35 209.9v-0.82M512.35 133.3v0.82M514.5 209.9v-0.82M514.5 133.3v0.82M516.65 209.9v-0.82M516.65 133.3v0.82M518.8 209.9v-0.82M518.8 133.3v0.82M520.95 209.9v-0.82M520.95 133.3v0.82M523.1 209.9v-0.82M523.1 133.3v0.82M525.25 209.9v-0.82M525.25 133.3v0.82M527.4 209.9v-0.82M527.4 133.3v0.82M531.7 209.9v-0.82M531.7 133.3v0.82M533.85 209.9v-0.82M533.85 133.3v0.82M536 209.9v-0.82M536 133.3v0.82M538.15 209.9v-0.82M538.15 133.3v0.82M540.3 209.9v-0.82M540.3 133.3v0.82M542.45 209.9v-0.82M542.45 133.3v0.82M544.6 209.9v-0.82M544.6 133.3v0.82M546.75 209.9v-0.82M546.75 133.3v0.82M548.9 209.9v-0.82M548.9 133.3v0.82M553.2 209.9v-0.82M553.2 133.3v0.82M555.35 209.9v-0.82M555.35 133.3v0.82M557.5 209.9v-0.82M557.5 133.3v0.82M559.65 209.9v-0.82M559.65 133.3v0.82M561.8 209.9v-0.82M561.8 133.3v0.82M563.95 209.9v-0.82M563.95 133.3v0.82M566.1 209.9v-0.82M566.1 133.3v0.82M568.25 209.9v-0.82M568.25 133.3v0.82M570.4 209.9v-0.82M570.4 133.3v0.82M574.7 209.9v-0.82M574.7 133.3v0.82M576.85 209.9v-0.82M576.85 133.3v0.82M579 209.9v-0.82M579 133.3v0.82M581.15 209.9v-0.82M581.15 133.3v0.82M583.3 209.9v-0.82M583.3 133.3v0.82M585.45 209.9v-0.82M585.45 133.3v0.82M587.6 209.9v-0.82M587.6 133.3v0.82M589.75 209.9v-0.82M589.75 133.3v0.82M591.9 209.9v-0.82M591.9 133.3v0.82M596.2 209.9v-0.82M596.2 133.3v0.82M440 204.74h1.69M597.6 204.74h-1.69M440 201.06h1.69M597.6 201.06h-1.69M440 197.38h1.69M597.6 197.38h-1.69M440 190.01h1.69M597.6 190.01h-1.69M440 186.33h1.69M597.6 186.33h-1.69M440 182.65h1.69M597.6 182.65h-1.69M440 175.28h1.69M597.6 175.28h-1.69M440 171.6h1.69M597.6 171.6h-1.69M440 167.92h1.69M597.6 167.92h-1.69M440 160.55h1.69M597.6 160.55h-1.69M440 156.87h1.69M597.6 156.87h-1.69M440 153.19h1.69M597.6 153.19h-1.69M440 145.82h1.69M597.6 145.82h-1.69M440 142.14h1.69M597.6 142.14h-1.69M440 138.46h1.69M597.6 138.46h-1.69" stroke="#000" stroke-width="1.15" fill="none"/><rect x="440" y="133.3" width="157.6" height="76.6" stroke="#000" stroke-width="1.4" stroke-linejoin="round" fill="none"/><polyline points="454.3,152.43 465.05,179.18 475.8,193.66 486.55,208.22 497.3,206.28 508.05,207.71 518.8,207.86 529.55,208.43 540.3,207.78 551.05,208.43 561.8,207.57 572.55,208.29" stroke="#000" stroke-width="1.4" fill="none" stroke-linejoin="round"/><text class="t" text-anchor="middle" x="518.8" y="129.4">Amp: SC vs. RES</text><text class="l" text-anchor="middle" transform="translate(443.55 220.8) scale(0.885 1)">6</text><text class="l" text-anchor="middle" transform="translate(465.05 220.8) scale(0.885 1)">7</text><text class="l" text-anchor="middle" transform="translate(486.55 220.8) scale(0.885 1)">8</text><text class="l" text-anchor="middle" transform="translate(508.05 220.8) scale(0.885 1)">9</text><text class="l" text-anchor="middle" transform="translate(529.55 220.8) scale(0.885 1)">10</text><text class="l" text-anchor="middle" transform="translate(551.05 220.8) scale(0.885 1)">11</text><text class="l" text-anchor="middle" transform="translate(572.55 220.8) scale(0.885 1)">12</text><text class="l" text-anchor="middle" transform="translate(594.05 220.8) scale(0.885 1)">13</text><text class="l" text-anchor="end" transform="translate(438 210.53) scale(0.885 1)">0</text><text class="l" text-anchor="end" transform="translate(438 197.2) scale(0.885 1)">20</text><text class="l" text-anchor="end" transform="translate(438 182.47) scale(0.885 1)">40</text><text class="l" text-anchor="end" transform="translate(438 167.73) scale(0.885 1)">60</text><text class="l" text-anchor="end" transform="translate(438 153) scale(0.885 1)">80</text><text class="l" text-anchor="end" transform="translate(438 138.27) scale(0.885 1)">100</text><text class="p" text-anchor="middle" transform="translate(417.6 171.6) rotate(-90) scale(0.9 1.1)">%</text><text class="h" text-anchor="middle" transform="translate(518.8 230.1) scale(0.93 1)">H<tspan class="s" dx="0.3" dy="2.1">V</tspan><tspan dy="-2.1"> limit</tspan></text></g><g><path d="M34.2 329.2v-1.65M34.2 252.6v1.65M55.7 329.2v-1.65M55.7 252.6v1.65M77.2 329.2v-1.65M77.2 252.6v1.65M98.7 329.2v-1.65M98.7 252.6v1.65M120.2 329.2v-1.65M120.2 252.6v1.65M141.7 329.2v-1.65M141.7 252.6v1.65M163.2 329.2v-1.65M163.2 252.6v1.65M184.7 329.2v-1.65M184.7 252.6v1.65M30.6 327.73h3.39M188.3 327.73h-3.39M30.6 313h3.39M188.3 313h-3.39M30.6 298.27h3.39M188.3 298.27h-3.39M30.6 283.53h3.39M188.3 283.53h-3.39M30.6 268.8h3.39M188.3 268.8h-3.39M30.6 254.07h3.39M188.3 254.07h-3.39" stroke="#000" stroke-width="1.3" fill="none"/><path d="M32.05 329.2v-0.82M32.05 252.6v0.82M36.35 329.2v-0.82M36.35 252.6v0.82M38.5 329.2v-0.82M38.5 252.6v0.82M40.65 329.2v-0.82M40.65 252.6v0.82M42.8 329.2v-0.82M42.8 252.6v0.82M44.95 329.2v-0.82M44.95 252.6v0.82M47.1 329.2v-0.82M47.1 252.6v0.82M49.25 329.2v-0.82M49.25 252.6v0.82M51.4 329.2v-0.82M51.4 252.6v0.82M53.55 329.2v-0.82M53.55 252.6v0.82M57.85 329.2v-0.82M57.85 252.6v0.82M60 329.2v-0.82M60 252.6v0.82M62.15 329.2v-0.82M62.15 252.6v0.82M64.3 329.2v-0.82M64.3 252.6v0.82M66.45 329.2v-0.82M66.45 252.6v0.82M68.6 329.2v-0.82M68.6 252.6v0.82M70.75 329.2v-0.82M70.75 252.6v0.82M72.9 329.2v-0.82M72.9 252.6v0.82M75.05 329.2v-0.82M75.05 252.6v0.82M79.35 329.2v-0.82M79.35 252.6v0.82M81.5 329.2v-0.82M81.5 252.6v0.82M83.65 329.2v-0.82M83.65 252.6v0.82M85.8 329.2v-0.82M85.8 252.6v0.82M87.95 329.2v-0.82M87.95 252.6v0.82M90.1 329.2v-0.82M90.1 252.6v0.82M92.25 329.2v-0.82M92.25 252.6v0.82M94.4 329.2v-0.82M94.4 252.6v0.82M96.55 329.2v-0.82M96.55 252.6v0.82M100.85 329.2v-0.82M100.85 252.6v0.82M103 329.2v-0.82M103 252.6v0.82M105.15 329.2v-0.82M105.15 252.6v0.82M107.3 329.2v-0.82M107.3 252.6v0.82M109.45 329.2v-0.82M109.45 252.6v0.82M111.6 329.2v-0.82M111.6 252.6v0.82M113.75 329.2v-0.82M113.75 252.6v0.82M115.9 329.2v-0.82M115.9 252.6v0.82M118.05 329.2v-0.82M118.05 252.6v0.82M122.35 329.2v-0.82M122.35 252.6v0.82M124.5 329.2v-0.82M124.5 252.6v0.82M126.65 329.2v-0.82M126.65 252.6v0.82M128.8 329.2v-0.82M128.8 252.6v0.82M130.95 329.2v-0.82M130.95 252.6v0.82M133.1 329.2v-0.82M133.1 252.6v0.82M135.25 329.2v-0.82M135.25 252.6v0.82M137.4 329.2v-0.82M137.4 252.6v0.82M139.55 329.2v-0.82M139.55 252.6v0.82M143.85 329.2v-0.82M143.85 252.6v0.82M146 329.2v-0.82M146 252.6v0.82M148.15 329.2v-0.82M148.15 252.6v0.82M150.3 329.2v-0.82M150.3 252.6v0.82M152.45 329.2v-0.82M152.45 252.6v0.82M154.6 329.2v-0.82M154.6 252.6v0.82M156.75 329.2v-0.82M156.75 252.6v0.82M158.9 329.2v-0.82M158.9 252.6v0.82M161.05 329.2v-0.82M161.05 252.6v0.82M165.35 329.2v-0.82M165.35 252.6v0.82M167.5 329.2v-0.82M167.5 252.6v0.82M169.65 329.2v-0.82M169.65 252.6v0.82M171.8 329.2v-0.82M171.8 252.6v0.82M173.95 329.2v-0.82M173.95 252.6v0.82M176.1 329.2v-0.82M176.1 252.6v0.82M178.25 329.2v-0.82M178.25 252.6v0.82M180.4 329.2v-0.82M180.4 252.6v0.82M182.55 329.2v-0.82M182.55 252.6v0.82M186.85 329.2v-0.82M186.85 252.6v0.82M30.6 324.04h1.7M188.3 324.04h-1.7M30.6 320.36h1.7M188.3 320.36h-1.7M30.6 316.68h1.7M188.3 316.68h-1.7M30.6 309.31h1.7M188.3 309.31h-1.7M30.6 305.63h1.7M188.3 305.63h-1.7M30.6 301.95h1.7M188.3 301.95h-1.7M30.6 294.58h1.7M188.3 294.58h-1.7M30.6 290.9h1.7M188.3 290.9h-1.7M30.6 287.22h1.7M188.3 287.22h-1.7M30.6 279.85h1.7M188.3 279.85h-1.7M30.6 276.17h1.7M188.3 276.17h-1.7M30.6 272.49h1.7M188.3 272.49h-1.7M30.6 265.12h1.7M188.3 265.12h-1.7M30.6 261.44h1.7M188.3 261.44h-1.7M30.6 257.76h1.7M188.3 257.76h-1.7" stroke="#000" stroke-width="1.15" fill="none"/><rect x="30.6" y="252.6" width="157.7" height="76.6" stroke="#000" stroke-width="1.4" stroke-linejoin="round" fill="none"/><polyline points="44.95,263.92 55.7,256.32 66.45,264.99 77.2,263.42 87.95,261.62 98.7,264.71 109.45,262.49 120.2,263.99 130.95,262.2 141.7,263.63 152.45,263.63 163.2,257.61" stroke="#000" stroke-width="1.4" fill="none" stroke-linejoin="round"/><text class="t" text-anchor="middle" x="109.45" y="248.7">Amp: CL vs. SC</text><text class="l" text-anchor="middle" transform="translate(34.2 340.1) scale(0.885 1)">6</text><text class="l" text-anchor="middle" transform="translate(55.7 340.1) scale(0.885 1)">7</text><text class="l" text-anchor="middle" transform="translate(77.2 340.1) scale(0.885 1)">8</text><text class="l" text-anchor="middle" transform="translate(98.7 340.1) scale(0.885 1)">9</text><text class="l" text-anchor="middle" transform="translate(120.2 340.1) scale(0.885 1)">10</text><text class="l" text-anchor="middle" transform="translate(141.7 340.1) scale(0.885 1)">11</text><text class="l" text-anchor="middle" transform="translate(163.2 340.1) scale(0.885 1)">12</text><text class="l" text-anchor="middle" transform="translate(184.7 340.1) scale(0.885 1)">13</text><text class="l" text-anchor="end" transform="translate(28.6 329.83) scale(0.885 1)">0</text><text class="l" text-anchor="end" transform="translate(28.6 316.5) scale(0.885 1)">20</text><text class="l" text-anchor="end" transform="translate(28.6 301.77) scale(0.885 1)">40</text><text class="l" text-anchor="end" transform="translate(28.6 287.03) scale(0.885 1)">60</text><text class="l" text-anchor="end" transform="translate(28.6 272.3) scale(0.885 1)">80</text><text class="l" text-anchor="end" transform="translate(28.6 257.57) scale(0.885 1)">100</text><text class="p" text-anchor="middle" transform="translate(8.2 290.9) rotate(-90) scale(0.9 1.1)">%</text><text class="h" text-anchor="middle" transform="translate(109.45 349.4) scale(0.93 1)">H<tspan class="s" dx="0.3" dy="2.1">V</tspan><tspan dy="-2.1"> limit</tspan></text></g><g><path d="M237.65 329.2v-1.65M237.65 252.6v1.65M259.15 329.2v-1.65M259.15 252.6v1.65M280.65 329.2v-1.65M280.65 252.6v1.65M302.15 329.2v-1.65M302.15 252.6v1.65M323.65 329.2v-1.65M323.65 252.6v1.65M345.15 329.2v-1.65M345.15 252.6v1.65M366.65 329.2v-1.65M366.65 252.6v1.65M388.15 329.2v-1.65M388.15 252.6v1.65M234 327.73h3.39M391.8 327.73h-3.39M234 313h3.39M391.8 313h-3.39M234 298.27h3.39M391.8 298.27h-3.39M234 283.53h3.39M391.8 283.53h-3.39M234 268.8h3.39M391.8 268.8h-3.39M234 254.07h3.39M391.8 254.07h-3.39" stroke="#000" stroke-width="1.3" fill="none"/><path d="M235.5 329.2v-0.82M235.5 252.6v0.82M239.8 329.2v-0.82M239.8 252.6v0.82M241.95 329.2v-0.82M241.95 252.6v0.82M244.1 329.2v-0.82M244.1 252.6v0.82M246.25 329.2v-0.82M246.25 252.6v0.82M248.4 329.2v-0.82M248.4 252.6v0.82M250.55 329.2v-0.82M250.55 252.6v0.82M252.7 329.2v-0.82M252.7 252.6v0.82M254.85 329.2v-0.82M254.85 252.6v0.82M257 329.2v-0.82M257 252.6v0.82M261.3 329.2v-0.82M261.3 252.6v0.82M263.45 329.2v-0.82M263.45 252.6v0.82M265.6 329.2v-0.82M265.6 252.6v0.82M267.75 329.2v-0.82M267.75 252.6v0.82M269.9 329.2v-0.82M269.9 252.6v0.82M272.05 329.2v-0.82M272.05 252.6v0.82M274.2 329.2v-0.82M274.2 252.6v0.82M276.35 329.2v-0.82M276.35 252.6v0.82M278.5 329.2v-0.82M278.5 252.6v0.82M282.8 329.2v-0.82M282.8 252.6v0.82M284.95 329.2v-0.82M284.95 252.6v0.82M287.1 329.2v-0.82M287.1 252.6v0.82M289.25 329.2v-0.82M289.25 252.6v0.82M291.4 329.2v-0.82M291.4 252.6v0.82M293.55 329.2v-0.82M293.55 252.6v0.82M295.7 329.2v-0.82M295.7 252.6v0.82M297.85 329.2v-0.82M297.85 252.6v0.82M300 329.2v-0.82M300 252.6v0.82M304.3 329.2v-0.82M304.3 252.6v0.82M306.45 329.2v-0.82M306.45 252.6v0.82M308.6 329.2v-0.82M308.6 252.6v0.82M310.75 329.2v-0.82M310.75 252.6v0.82M312.9 329.2v-0.82M312.9 252.6v0.82M315.05 329.2v-0.82M315.05 252.6v0.82M317.2 329.2v-0.82M317.2 252.6v0.82M319.35 329.2v-0.82M319.35 252.6v0.82M321.5 329.2v-0.82M321.5 252.6v0.82M325.8 329.2v-0.82M325.8 252.6v0.82M327.95 329.2v-0.82M327.95 252.6v0.82M330.1 329.2v-0.82M330.1 252.6v0.82M332.25 329.2v-0.82M332.25 252.6v0.82M334.4 329.2v-0.82M334.4 252.6v0.82M336.55 329.2v-0.82M336.55 252.6v0.82M338.7 329.2v-0.82M338.7 252.6v0.82M340.85 329.2v-0.82M340.85 252.6v0.82M343 329.2v-0.82M343 252.6v0.82M347.3 329.2v-0.82M347.3 252.6v0.82M349.45 329.2v-0.82M349.45 252.6v0.82M351.6 329.2v-0.82M351.6 252.6v0.82M353.75 329.2v-0.82M353.75 252.6v0.82M355.9 329.2v-0.82M355.9 252.6v0.82M358.05 329.2v-0.82M358.05 252.6v0.82M360.2 329.2v-0.82M360.2 252.6v0.82M362.35 329.2v-0.82M362.35 252.6v0.82M364.5 329.2v-0.82M364.5 252.6v0.82M368.8 329.2v-0.82M368.8 252.6v0.82M370.95 329.2v-0.82M370.95 252.6v0.82M373.1 329.2v-0.82M373.1 252.6v0.82M375.25 329.2v-0.82M375.25 252.6v0.82M377.4 329.2v-0.82M377.4 252.6v0.82M379.55 329.2v-0.82M379.55 252.6v0.82M381.7 329.2v-0.82M381.7 252.6v0.82M383.85 329.2v-0.82M383.85 252.6v0.82M386 329.2v-0.82M386 252.6v0.82M390.3 329.2v-0.82M390.3 252.6v0.82M234 324.04h1.7M391.8 324.04h-1.7M234 320.36h1.7M391.8 320.36h-1.7M234 316.68h1.7M391.8 316.68h-1.7M234 309.31h1.7M391.8 309.31h-1.7M234 305.63h1.7M391.8 305.63h-1.7M234 301.95h1.7M391.8 301.95h-1.7M234 294.58h1.7M391.8 294.58h-1.7M234 290.9h1.7M391.8 290.9h-1.7M234 287.22h1.7M391.8 287.22h-1.7M234 279.85h1.7M391.8 279.85h-1.7M234 276.17h1.7M391.8 276.17h-1.7M234 272.49h1.7M391.8 272.49h-1.7M234 265.12h1.7M391.8 265.12h-1.7M234 261.44h1.7M391.8 261.44h-1.7M234 257.76h1.7M391.8 257.76h-1.7" stroke="#000" stroke-width="1.15" fill="none"/><rect x="234" y="252.6" width="157.8" height="76.6" stroke="#000" stroke-width="1.4" stroke-linejoin="round" fill="none"/><polyline points="248.4,261.19 259.15,255.1 269.9,263.99 280.65,265.21 291.4,265.21 302.15,265.21 312.9,265.21 323.65,265.21 334.4,265.21 345.15,262.27 355.9,262.27 366.65,258.47" stroke="#000" stroke-width="1.4" fill="none" stroke-linejoin="round"/><text class="t" text-anchor="middle" x="312.9" y="248.7">Amp: CL vs. RES</text><text class="l" text-anchor="middle" transform="translate(237.65 340.1) scale(0.885 1)">6</text><text class="l" text-anchor="middle" transform="translate(259.15 340.1) scale(0.885 1)">7</text><text class="l" text-anchor="middle" transform="translate(280.65 340.1) scale(0.885 1)">8</text><text class="l" text-anchor="middle" transform="translate(302.15 340.1) scale(0.885 1)">9</text><text class="l" text-anchor="middle" transform="translate(323.65 340.1) scale(0.885 1)">10</text><text class="l" text-anchor="middle" transform="translate(345.15 340.1) scale(0.885 1)">11</text><text class="l" text-anchor="middle" transform="translate(366.65 340.1) scale(0.885 1)">12</text><text class="l" text-anchor="middle" transform="translate(388.15 340.1) scale(0.885 1)">13</text><text class="l" text-anchor="end" transform="translate(232 329.83) scale(0.885 1)">0</text><text class="l" text-anchor="end" transform="translate(232 316.5) scale(0.885 1)">20</text><text class="l" text-anchor="end" transform="translate(232 301.77) scale(0.885 1)">40</text><text class="l" text-anchor="end" transform="translate(232 287.03) scale(0.885 1)">60</text><text class="l" text-anchor="end" transform="translate(232 272.3) scale(0.885 1)">80</text><text class="l" text-anchor="end" transform="translate(232 257.57) scale(0.885 1)">100</text><text class="p" text-anchor="middle" transform="translate(211.6 290.9) rotate(-90) scale(0.9 1.1)">%</text><text class="h" text-anchor="middle" transform="translate(312.9 349.4) scale(0.93 1)">H<tspan class="s" dx="0.3" dy="2.1">V</tspan><tspan dy="-2.1"> limit</tspan></text></g><g><path d="M443.55 329.2v-1.65M443.55 252.6v1.65M465.05 329.2v-1.65M465.05 252.6v1.65M486.55 329.2v-1.65M486.55 252.6v1.65M508.05 329.2v-1.65M508.05 252.6v1.65M529.55 329.2v-1.65M529.55 252.6v1.65M551.05 329.2v-1.65M551.05 252.6v1.65M572.55 329.2v-1.65M572.55 252.6v1.65M594.05 329.2v-1.65M594.05 252.6v1.65M440 327.73h3.39M597.6 327.73h-3.39M440 313h3.39M597.6 313h-3.39M440 298.27h3.39M597.6 298.27h-3.39M440 283.53h3.39M597.6 283.53h-3.39M440 268.8h3.39M597.6 268.8h-3.39M440 254.07h3.39M597.6 254.07h-3.39" stroke="#000" stroke-width="1.3" fill="none"/><path d="M441.4 329.2v-0.82M441.4 252.6v0.82M445.7 329.2v-0.82M445.7 252.6v0.82M447.85 329.2v-0.82M447.85 252.6v0.82M450 329.2v-0.82M450 252.6v0.82M452.15 329.2v-0.82M452.15 252.6v0.82M454.3 329.2v-0.82M454.3 252.6v0.82M456.45 329.2v-0.82M456.45 252.6v0.82M458.6 329.2v-0.82M458.6 252.6v0.82M460.75 329.2v-0.82M460.75 252.6v0.82M462.9 329.2v-0.82M462.9 252.6v0.82M467.2 329.2v-0.82M467.2 252.6v0.82M469.35 329.2v-0.82M469.35 252.6v0.82M471.5 329.2v-0.82M471.5 252.6v0.82M473.65 329.2v-0.82M473.65 252.6v0.82M475.8 329.2v-0.82M475.8 252.6v0.82M477.95 329.2v-0.82M477.95 252.6v0.82M480.1 329.2v-0.82M480.1 252.6v0.82M482.25 329.2v-0.82M482.25 252.6v0.82M484.4 329.2v-0.82M484.4 252.6v0.82M488.7 329.2v-0.82M488.7 252.6v0.82M490.85 329.2v-0.82M490.85 252.6v0.82M493 329.2v-0.82M493 252.6v0.82M495.15 329.2v-0.82M495.15 252.6v0.82M497.3 329.2v-0.82M497.3 252.6v0.82M499.45 329.2v-0.82M499.45 252.6v0.82M501.6 329.2v-0.82M501.6 252.6v0.82M503.75 329.2v-0.82M503.75 252.6v0.82M505.9 329.2v-0.82M505.9 252.6v0.82M510.2 329.2v-0.82M510.2 252.6v0.82M512.35 329.2v-0.82M512.35 252.6v0.82M514.5 329.2v-0.82M514.5 252.6v0.82M516.65 329.2v-0.82M516.65 252.6v0.82M518.8 329.2v-0.82M518.8 252.6v0.82M520.95 329.2v-0.82M520.95 252.6v0.82M523.1 329.2v-0.82M523.1 252.6v0.82M525.25 329.2v-0.82M525.25 252.6v0.82M527.4 329.2v-0.82M527.4 252.6v0.82M531.7 329.2v-0.82M531.7 252.6v0.82M533.85 329.2v-0.82M533.85 252.6v0.82M536 329.2v-0.82M536 252.6v0.82M538.15 329.2v-0.82M538.15 252.6v0.82M540.3 329.2v-0.82M540.3 252.6v0.82M542.45 329.2v-0.82M542.45 252.6v0.82M544.6 329.2v-0.82M544.6 252.6v0.82M546.75 329.2v-0.82M546.75 252.6v0.82M548.9 329.2v-0.82M548.9 252.6v0.82M553.2 329.2v-0.82M553.2 252.6v0.82M555.35 329.2v-0.82M555.35 252.6v0.82M557.5 329.2v-0.82M557.5 252.6v0.82M559.65 329.2v-0.82M559.65 252.6v0.82M561.8 329.2v-0.82M561.8 252.6v0.82M563.95 329.2v-0.82M563.95 252.6v0.82M566.1 329.2v-0.82M566.1 252.6v0.82M568.25 329.2v-0.82M568.25 252.6v0.82M570.4 329.2v-0.82M570.4 252.6v0.82M574.7 329.2v-0.82M574.7 252.6v0.82M576.85 329.2v-0.82M576.85 252.6v0.82M579 329.2v-0.82M579 252.6v0.82M581.15 329.2v-0.82M581.15 252.6v0.82M583.3 329.2v-0.82M583.3 252.6v0.82M585.45 329.2v-0.82M585.45 252.6v0.82M587.6 329.2v-0.82M587.6 252.6v0.82M589.75 329.2v-0.82M589.75 252.6v0.82M591.9 329.2v-0.82M591.9 252.6v0.82M596.2 329.2v-0.82M596.2 252.6v0.82M440 324.04h1.69M597.6 324.04h-1.69M440 320.36h1.69M597.6 320.36h-1.69M440 316.68h1.69M597.6 316.68h-1.69M440 309.31h1.69M597.6 309.31h-1.69M440 305.63h1.69M597.6 305.63h-1.69M440 301.95h1.69M597.6 301.95h-1.69M440 294.58h1.69M597.6 294.58h-1.69M440 290.9h1.69M597.6 290.9h-1.69M440 287.22h1.69M597.6 287.22h-1.69M440 279.85h1.69M597.6 279.85h-1.69M440 276.17h1.69M597.6 276.17h-1.69M440 272.49h1.69M597.6 272.49h-1.69M440 265.12h1.69M597.6 265.12h-1.69M440 261.44h1.69M597.6 261.44h-1.69M440 257.76h1.69M597.6 257.76h-1.69" stroke="#000" stroke-width="1.15" fill="none"/><rect x="440" y="252.6" width="157.6" height="76.6" stroke="#000" stroke-width="1.4" stroke-linejoin="round" fill="none"/><polyline points="454.3,260.33 465.05,255.89 475.8,265.64 486.55,261.41 497.3,261.91 508.05,263.92 518.8,262.49 529.55,263.27 540.3,262.49 551.05,260.69 561.8,260.69 572.55,256.53" stroke="#000" stroke-width="1.4" fill="none" stroke-linejoin="round"/><text class="t" text-anchor="middle" x="518.8" y="248.7">Amp: CL vs. SC+RES</text><text class="l" text-anchor="middle" transform="translate(443.55 340.1) scale(0.885 1)">6</text><text class="l" text-anchor="middle" transform="translate(465.05 340.1) scale(0.885 1)">7</text><text class="l" text-anchor="middle" transform="translate(486.55 340.1) scale(0.885 1)">8</text><text class="l" text-anchor="middle" transform="translate(508.05 340.1) scale(0.885 1)">9</text><text class="l" text-anchor="middle" transform="translate(529.55 340.1) scale(0.885 1)">10</text><text class="l" text-anchor="middle" transform="translate(551.05 340.1) scale(0.885 1)">11</text><text class="l" text-anchor="middle" transform="translate(572.55 340.1) scale(0.885 1)">12</text><text class="l" text-anchor="middle" transform="translate(594.05 340.1) scale(0.885 1)">13</text><text class="l" text-anchor="end" transform="translate(438 329.83) scale(0.885 1)">0</text><text class="l" text-anchor="end" transform="translate(438 316.5) scale(0.885 1)">20</text><text class="l" text-anchor="end" transform="translate(438 301.77) scale(0.885 1)">40</text><text class="l" text-anchor="end" transform="translate(438 287.03) scale(0.885 1)">60</text><text class="l" text-anchor="end" transform="translate(438 272.3) scale(0.885 1)">80</text><text class="l" text-anchor="end" transform="translate(438 257.57) scale(0.885 1)">100</text><text class="p" text-anchor="middle" transform="translate(417.6 290.9) rotate(-90) scale(0.9 1.1)">%</text><text class="h" text-anchor="middle" transform="translate(518.8 349.4) scale(0.93 1)">H<tspan class="s" dx="0.3" dy="2.1">V</tspan><tspan dy="-2.1"> limit</tspan></text></g><g><path d="M34.2 448.6v-1.65M34.2 371.9v1.65M55.7 448.6v-1.65M55.7 371.9v1.65M77.2 448.6v-1.65M77.2 371.9v1.65M98.7 448.6v-1.65M98.7 371.9v1.65M120.2 448.6v-1.65M120.2 371.9v1.65M141.7 448.6v-1.65M141.7 371.9v1.65M163.2 448.6v-1.65M163.2 371.9v1.65M184.7 448.6v-1.65M184.7 371.9v1.65M30.6 447.12h3.39M188.3 447.12h-3.39M30.6 432.38h3.39M188.3 432.38h-3.39M30.6 417.62h3.39M188.3 417.62h-3.39M30.6 402.88h3.39M188.3 402.88h-3.39M30.6 388.12h3.39M188.3 388.12h-3.39M30.6 373.37h3.39M188.3 373.37h-3.39" stroke="#000" stroke-width="1.3" fill="none"/><path d="M32.05 448.6v-0.82M32.05 371.9v0.82M36.35 448.6v-0.82M36.35 371.9v0.82M38.5 448.6v-0.82M38.5 371.9v0.82M40.65 448.6v-0.82M40.65 371.9v0.82M42.8 448.6v-0.82M42.8 371.9v0.82M44.95 448.6v-0.82M44.95 371.9v0.82M47.1 448.6v-0.82M47.1 371.9v0.82M49.25 448.6v-0.82M49.25 371.9v0.82M51.4 448.6v-0.82M51.4 371.9v0.82M53.55 448.6v-0.82M53.55 371.9v0.82M57.85 448.6v-0.82M57.85 371.9v0.82M60 448.6v-0.82M60 371.9v0.82M62.15 448.6v-0.82M62.15 371.9v0.82M64.3 448.6v-0.82M64.3 371.9v0.82M66.45 448.6v-0.82M66.45 371.9v0.82M68.6 448.6v-0.82M68.6 371.9v0.82M70.75 448.6v-0.82M70.75 371.9v0.82M72.9 448.6v-0.82M72.9 371.9v0.82M75.05 448.6v-0.82M75.05 371.9v0.82M79.35 448.6v-0.82M79.35 371.9v0.82M81.5 448.6v-0.82M81.5 371.9v0.82M83.65 448.6v-0.82M83.65 371.9v0.82M85.8 448.6v-0.82M85.8 371.9v0.82M87.95 448.6v-0.82M87.95 371.9v0.82M90.1 448.6v-0.82M90.1 371.9v0.82M92.25 448.6v-0.82M92.25 371.9v0.82M94.4 448.6v-0.82M94.4 371.9v0.82M96.55 448.6v-0.82M96.55 371.9v0.82M100.85 448.6v-0.82M100.85 371.9v0.82M103 448.6v-0.82M103 371.9v0.82M105.15 448.6v-0.82M105.15 371.9v0.82M107.3 448.6v-0.82M107.3 371.9v0.82M109.45 448.6v-0.82M109.45 371.9v0.82M111.6 448.6v-0.82M111.6 371.9v0.82M113.75 448.6v-0.82M113.75 371.9v0.82M115.9 448.6v-0.82M115.9 371.9v0.82M118.05 448.6v-0.82M118.05 371.9v0.82M122.35 448.6v-0.82M122.35 371.9v0.82M124.5 448.6v-0.82M124.5 371.9v0.82M126.65 448.6v-0.82M126.65 371.9v0.82M128.8 448.6v-0.82M128.8 371.9v0.82M130.95 448.6v-0.82M130.95 371.9v0.82M133.1 448.6v-0.82M133.1 371.9v0.82M135.25 448.6v-0.82M135.25 371.9v0.82M137.4 448.6v-0.82M137.4 371.9v0.82M139.55 448.6v-0.82M139.55 371.9v0.82M143.85 448.6v-0.82M143.85 371.9v0.82M146 448.6v-0.82M146 371.9v0.82M148.15 448.6v-0.82M148.15 371.9v0.82M150.3 448.6v-0.82M150.3 371.9v0.82M152.45 448.6v-0.82M152.45 371.9v0.82M154.6 448.6v-0.82M154.6 371.9v0.82M156.75 448.6v-0.82M156.75 371.9v0.82M158.9 448.6v-0.82M158.9 371.9v0.82M161.05 448.6v-0.82M161.05 371.9v0.82M165.35 448.6v-0.82M165.35 371.9v0.82M167.5 448.6v-0.82M167.5 371.9v0.82M169.65 448.6v-0.82M169.65 371.9v0.82M171.8 448.6v-0.82M171.8 371.9v0.82M173.95 448.6v-0.82M173.95 371.9v0.82M176.1 448.6v-0.82M176.1 371.9v0.82M178.25 448.6v-0.82M178.25 371.9v0.82M180.4 448.6v-0.82M180.4 371.9v0.82M182.55 448.6v-0.82M182.55 371.9v0.82M186.85 448.6v-0.82M186.85 371.9v0.82M30.6 443.44h1.7M188.3 443.44h-1.7M30.6 439.75h1.7M188.3 439.75h-1.7M30.6 436.06h1.7M188.3 436.06h-1.7M30.6 428.69h1.7M188.3 428.69h-1.7M30.6 425h1.7M188.3 425h-1.7M30.6 421.31h1.7M188.3 421.31h-1.7M30.6 413.94h1.7M188.3 413.94h-1.7M30.6 410.25h1.7M188.3 410.25h-1.7M30.6 406.56h1.7M188.3 406.56h-1.7M30.6 399.19h1.7M188.3 399.19h-1.7M30.6 395.5h1.7M188.3 395.5h-1.7M30.6 391.81h1.7M188.3 391.81h-1.7M30.6 384.44h1.7M188.3 384.44h-1.7M30.6 380.75h1.7M188.3 380.75h-1.7M30.6 377.06h1.7M188.3 377.06h-1.7" stroke="#000" stroke-width="1.15" fill="none"/><rect x="30.6" y="371.9" width="157.7" height="76.7" stroke="#000" stroke-width="1.4" stroke-linejoin="round" fill="none"/><polyline points="44.95,428.27 55.7,416.01 66.45,443.19 77.2,442.33 87.95,444.33 98.7,437.88 109.45,435.51 120.2,435.8 130.95,433.29 141.7,429.13 152.45,431.5 163.2,429.21" stroke="#000" stroke-width="1.4" fill="none" stroke-linejoin="round"/><text class="t" text-anchor="middle" x="109.45" y="368">SinglePeriod: Non-Binary vs. Binary</text><text class="l" text-anchor="middle" transform="translate(34.2 459.5) scale(0.885 1)">6</text><text class="l" text-anchor="middle" transform="translate(55.7 459.5) scale(0.885 1)">7</text><text class="l" text-anchor="middle" transform="translate(77.2 459.5) scale(0.885 1)">8</text><text class="l" text-anchor="middle" transform="translate(98.7 459.5) scale(0.885 1)">9</text><text class="l" text-anchor="middle" transform="translate(120.2 459.5) scale(0.885 1)">10</text><text class="l" text-anchor="middle" transform="translate(141.7 459.5) scale(0.885 1)">11</text><text class="l" text-anchor="middle" transform="translate(163.2 459.5) scale(0.885 1)">12</text><text class="l" text-anchor="middle" transform="translate(184.7 459.5) scale(0.885 1)">13</text><text class="l" text-anchor="end" transform="translate(28.6 449.23) scale(0.885 1)">0</text><text class="l" text-anchor="end" transform="translate(28.6 435.88) scale(0.885 1)">20</text><text class="l" text-anchor="end" transform="translate(28.6 421.12) scale(0.885 1)">40</text><text class="l" text-anchor="end" transform="translate(28.6 406.38) scale(0.885 1)">60</text><text class="l" text-anchor="end" transform="translate(28.6 391.62) scale(0.885 1)">80</text><text class="l" text-anchor="end" transform="translate(28.6 376.87) scale(0.885 1)">100</text><text class="p" text-anchor="middle" transform="translate(8.2 410.25) rotate(-90) scale(0.9 1.1)">%</text><text class="h" text-anchor="middle" transform="translate(109.45 468.8) scale(0.93 1)">H<tspan class="s" dx="0.3" dy="2.1">V</tspan><tspan dy="-2.1"> limit</tspan></text></g><g><path d="M237.65 448.6v-1.65M237.65 371.9v1.65M259.15 448.6v-1.65M259.15 371.9v1.65M280.65 448.6v-1.65M280.65 371.9v1.65M302.15 448.6v-1.65M302.15 371.9v1.65M323.65 448.6v-1.65M323.65 371.9v1.65M345.15 448.6v-1.65M345.15 371.9v1.65M366.65 448.6v-1.65M366.65 371.9v1.65M388.15 448.6v-1.65M388.15 371.9v1.65M234 447.12h3.39M391.8 447.12h-3.39M234 432.38h3.39M391.8 432.38h-3.39M234 417.62h3.39M391.8 417.62h-3.39M234 402.88h3.39M391.8 402.88h-3.39M234 388.12h3.39M391.8 388.12h-3.39M234 373.37h3.39M391.8 373.37h-3.39" stroke="#000" stroke-width="1.3" fill="none"/><path d="M235.5 448.6v-0.82M235.5 371.9v0.82M239.8 448.6v-0.82M239.8 371.9v0.82M241.95 448.6v-0.82M241.95 371.9v0.82M244.1 448.6v-0.82M244.1 371.9v0.82M246.25 448.6v-0.82M246.25 371.9v0.82M248.4 448.6v-0.82M248.4 371.9v0.82M250.55 448.6v-0.82M250.55 371.9v0.82M252.7 448.6v-0.82M252.7 371.9v0.82M254.85 448.6v-0.82M254.85 371.9v0.82M257 448.6v-0.82M257 371.9v0.82M261.3 448.6v-0.82M261.3 371.9v0.82M263.45 448.6v-0.82M263.45 371.9v0.82M265.6 448.6v-0.82M265.6 371.9v0.82M267.75 448.6v-0.82M267.75 371.9v0.82M269.9 448.6v-0.82M269.9 371.9v0.82M272.05 448.6v-0.82M272.05 371.9v0.82M274.2 448.6v-0.82M274.2 371.9v0.82M276.35 448.6v-0.82M276.35 371.9v0.82M278.5 448.6v-0.82M278.5 371.9v0.82M282.8 448.6v-0.82M282.8 371.9v0.82M284.95 448.6v-0.82M284.95 371.9v0.82M287.1 448.6v-0.82M287.1 371.9v0.82M289.25 448.6v-0.82M289.25 371.9v0.82M291.4 448.6v-0.82M291.4 371.9v0.82M293.55 448.6v-0.82M293.55 371.9v0.82M295.7 448.6v-0.82M295.7 371.9v0.82M297.85 448.6v-0.82M297.85 371.9v0.82M300 448.6v-0.82M300 371.9v0.82M304.3 448.6v-0.82M304.3 371.9v0.82M306.45 448.6v-0.82M306.45 371.9v0.82M308.6 448.6v-0.82M308.6 371.9v0.82M310.75 448.6v-0.82M310.75 371.9v0.82M312.9 448.6v-0.82M312.9 371.9v0.82M315.05 448.6v-0.82M315.05 371.9v0.82M317.2 448.6v-0.82M317.2 371.9v0.82M319.35 448.6v-0.82M319.35 371.9v0.82M321.5 448.6v-0.82M321.5 371.9v0.82M325.8 448.6v-0.82M325.8 371.9v0.82M327.95 448.6v-0.82M327.95 371.9v0.82M330.1 448.6v-0.82M330.1 371.9v0.82M332.25 448.6v-0.82M332.25 371.9v0.82M334.4 448.6v-0.82M334.4 371.9v0.82M336.55 448.6v-0.82M336.55 371.9v0.82M338.7 448.6v-0.82M338.7 371.9v0.82M340.85 448.6v-0.82M340.85 371.9v0.82M343 448.6v-0.82M343 371.9v0.82M347.3 448.6v-0.82M347.3 371.9v0.82M349.45 448.6v-0.82M349.45 371.9v0.82M351.6 448.6v-0.82M351.6 371.9v0.82M353.75 448.6v-0.82M353.75 371.9v0.82M355.9 448.6v-0.82M355.9 371.9v0.82M358.05 448.6v-0.82M358.05 371.9v0.82M360.2 448.6v-0.82M360.2 371.9v0.82M362.35 448.6v-0.82M362.35 371.9v0.82M364.5 448.6v-0.82M364.5 371.9v0.82M368.8 448.6v-0.82M368.8 371.9v0.82M370.95 448.6v-0.82M370.95 371.9v0.82M373.1 448.6v-0.82M373.1 371.9v0.82M375.25 448.6v-0.82M375.25 371.9v0.82M377.4 448.6v-0.82M377.4 371.9v0.82M379.55 448.6v-0.82M379.55 371.9v0.82M381.7 448.6v-0.82M381.7 371.9v0.82M383.85 448.6v-0.82M383.85 371.9v0.82M386 448.6v-0.82M386 371.9v0.82M390.3 448.6v-0.82M390.3 371.9v0.82M234 443.44h1.7M391.8 443.44h-1.7M234 439.75h1.7M391.8 439.75h-1.7M234 436.06h1.7M391.8 436.06h-1.7M234 428.69h1.7M391.8 428.69h-1.7M234 425h1.7M391.8 425h-1.7M234 421.31h1.7M391.8 421.31h-1.7M234 413.94h1.7M391.8 413.94h-1.7M234 410.25h1.7M391.8 410.25h-1.7M234 406.56h1.7M391.8 406.56h-1.7M234 399.19h1.7M391.8 399.19h-1.7M234 395.5h1.7M391.8 395.5h-1.7M234 391.81h1.7M391.8 391.81h-1.7M234 384.44h1.7M391.8 384.44h-1.7M234 380.75h1.7M391.8 380.75h-1.7M234 377.06h1.7M391.8 377.06h-1.7" stroke="#000" stroke-width="1.15" fill="none"/><rect x="234" y="371.9" width="157.8" height="76.7" stroke="#000" stroke-width="1.4" stroke-linejoin="round" fill="none"/><polyline points="248.4,397.59 259.15,404.68 269.9,411.78 280.65,411.78 291.4,411.78 302.15,411.78 312.9,411.78 323.65,411.78 334.4,411.78 345.15,411.78 355.9,411.78 366.65,411.78" stroke="#000" stroke-width="1.4" fill="none" stroke-linejoin="round"/><text class="t" text-anchor="middle" x="312.9" y="368">DoublePeriod: Non-Binary vs. Binary</text><text class="l" text-anchor="middle" transform="translate(237.65 459.5) scale(0.885 1)">6</text><text class="l" text-anchor="middle" transform="translate(259.15 459.5) scale(0.885 1)">7</text><text class="l" text-anchor="middle" transform="translate(280.65 459.5) scale(0.885 1)">8</text><text class="l" text-anchor="middle" transform="translate(302.15 459.5) scale(0.885 1)">9</text><text class="l" text-anchor="middle" transform="translate(323.65 459.5) scale(0.885 1)">10</text><text class="l" text-anchor="middle" transform="translate(345.15 459.5) scale(0.885 1)">11</text><text class="l" text-anchor="middle" transform="translate(366.65 459.5) scale(0.885 1)">12</text><text class="l" text-anchor="middle" transform="translate(388.15 459.5) scale(0.885 1)">13</text><text class="l" text-anchor="end" transform="translate(232 449.23) scale(0.885 1)">0</text><text class="l" text-anchor="end" transform="translate(232 435.88) scale(0.885 1)">20</text><text class="l" text-anchor="end" transform="translate(232 421.12) scale(0.885 1)">40</text><text class="l" text-anchor="end" transform="translate(232 406.38) scale(0.885 1)">60</text><text class="l" text-anchor="end" transform="translate(232 391.62) scale(0.885 1)">80</text><text class="l" text-anchor="end" transform="translate(232 376.87) scale(0.885 1)">100</text><text class="p" text-anchor="middle" transform="translate(211.6 410.25) rotate(-90) scale(0.9 1.1)">%</text><text class="h" text-anchor="middle" transform="translate(312.9 468.8) scale(0.93 1)">H<tspan class="s" dx="0.3" dy="2.1">V</tspan><tspan dy="-2.1"> limit</tspan></text></g></g></svg></body></html>
